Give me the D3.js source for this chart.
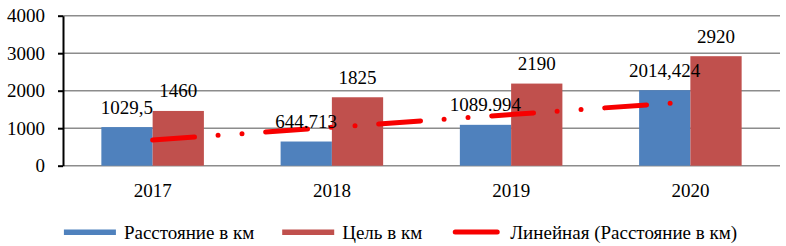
<!DOCTYPE html>
<html>
<head>
<meta charset="utf-8">
<script src="https://cdn.jsdelivr.net/npm/d3@7"></script>
<style>
    body { margin: 0; background: #fff; }
    svg text { font-family: "Liberation Serif", "Tinos", "Times New Roman", "DejaVu Serif", serif; fill: #000; }
</style>
</head>
<body>
<div id="chart"></div>
<script>
// data
const years = ["2017", "2018", "2019", "2020"];
const distance = [1029.5, 644.713, 1089.994, 2014.424];
const target = [1460, 1825, 2190, 2920];
const distanceLabels = ["1029,5", "644.713", "1089.994", "2014,424"];
const targetLabels = ["1460", "1825", "2190", "2920"];
const yTicks = [0, 1000, 2000, 3000, 4000];
const legendLabels = ["Расстояние в км", "Цель в км", "Линейная (Расстояние в км)"];

let totalWidth = 786,
    totalHeight = 246,
    mTop = 15.7,
    mLeft = 63,
    mRight = 6,
    mBottom = 80.3;

let width = totalWidth - mLeft - mRight,
    height = totalHeight - mTop - mBottom;

let blue = "#4f81bd",
    red = "#c0504d",
    trendRed = "#f70000",
    fontSize = 19,
    fontFamily = "'Liberation Serif', 'Tinos', 'Times New Roman', 'DejaVu Serif', serif";

let svg = d3.select("#chart").append("svg")
    .attr("width", totalWidth)
    .attr("height", totalHeight)
    .attr("font-family", fontFamily);

let g = svg.append("g")
    .attr("transform", "translate(" + mLeft + "," + mTop + ")");

let xScale = d3.scaleBand()
    .domain(years)
    .range([0, width])
    .paddingInner(0.428)
    .paddingOuter(0.214);

let xInner = d3.scaleBand()
    .domain(["distance", "target"])
    .range([0, xScale.bandwidth()]);

let yScale = d3.scaleLinear()
    .domain([0, 4000])
    .range([height, 0]);

// gridlines
g.append("g")
    .selectAll("line")
    .data(yTicks)
    .join("line")
    .attr("x1", 0)
    .attr("x2", width)
    .attr("y1", d => yScale(d))
    .attr("y2", d => yScale(d))
    .attr("stroke", "#8c8c8c")
    .attr("stroke-width", 1.4);

// y axis
let yAxis = d3.axisLeft(yScale)
    .tickValues(yTicks)
    .tickFormat(d3.format("d"))
    .tickSize(5)
    .tickPadding(13)
    .tickSizeOuter(0);

let yG = g.append("g").call(yAxis)
    .attr("font-family", fontFamily)
    .attr("font-size", fontSize);
yG.select(".domain")
    .attr("stroke", "#000")
    .attr("stroke-width", 2);
yG.selectAll(".tick line")
    .attr("stroke", "#000")
    .attr("stroke-width", 2);
yG.selectAll(".tick text")
    .style("font-size", fontSize + "px");

// x labels
g.append("g")
    .selectAll("text")
    .data(years)
    .join("text")
    .attr("x", d => xScale(d) + xScale.bandwidth() / 2)
    .attr("y", height + 31)
    .attr("text-anchor", "middle")
    .style("font-size", fontSize + "px")
    .text(d => d);

// bars
let rows = years.map((y, i) => ({ year: y, distance: distance[i], target: target[i], i: i }));

g.append("g")
    .selectAll("rect")
    .data(rows)
    .join("rect")
    .attr("x", d => xScale(d.year) + xInner("distance"))
    .attr("y", d => yScale(d.distance))
    .attr("width", xInner.bandwidth())
    .attr("height", d => height - yScale(d.distance))
    .attr("fill", blue);

g.append("g")
    .selectAll("rect")
    .data(rows)
    .join("rect")
    .attr("x", d => xScale(d.year) + xInner("target"))
    .attr("y", d => yScale(d.target))
    .attr("width", xInner.bandwidth())
    .attr("height", d => height - yScale(d.target))
    .attr("fill", red);

// linear trendline of the distance series (least squares, x = 1..n)
let n = distance.length;
let mx = d3.mean(distance, (d, i) => i + 1),
    my = d3.mean(distance);
let sxy = d3.sum(distance, (d, i) => (i + 1 - mx) * (d - my)),
    sxx = d3.sum(distance, (d, i) => (i + 1 - mx) * (i + 1 - mx));
let slope = sxy / sxx,
    intercept = my - slope * mx;

let trend = [1, n].map(k => ({ x: xScale(years[k - 1]) + xScale.bandwidth() / 2, y: yScale(intercept + slope * k) }));

g.append("path")
    .datum(trend)
    .attr("d", d3.line().x(d => d.x).y(d => d.y))
    .attr("fill", "none")
    .attr("stroke", trendRed)
    .attr("stroke-width", 5)
    .attr("stroke-linecap", "round")
    .attr("stroke-dasharray", "42,23.6,0,24,0,23.7");

// data labels
g.append("g")
    .selectAll("text")
    .data(rows)
    .join("text")
    .attr("x", d => xScale(d.year) + xInner("distance") + xInner.bandwidth() / 2)
    .attr("y", d => yScale(d.distance) - 13.5)
    .attr("text-anchor", "middle")
    .style("font-size", fontSize + "px")
    .text(d => distanceLabels[d.i]);

g.append("g")
    .selectAll("text")
    .data(rows)
    .join("text")
    .attr("x", d => xScale(d.year) + xInner("target") + xInner.bandwidth() / 2)
    .attr("y", d => yScale(d.target) - 13.5)
    .attr("text-anchor", "middle")
    .style("font-size", fontSize + "px")
    .text(d => targetLabels[d.i]);

// legend
let legend = svg.append("g");
let symW = 52,
    symGap = 8,
    itemGap = 28,
    legendY = 232;

let items = legend.selectAll("g")
    .data(legendLabels)
    .join("g");

items.each(function(d, i) {
    let it = d3.select(this);
    if (i < 2) {
        it.append("rect")
            .attr("x", 0)
            .attr("y", legendY - 2.5)
            .attr("width", symW)
            .attr("height", 5.5)
            .attr("fill", i === 0 ? blue : red);
    } else {
        it.append("line")
            .attr("x1", 5)
            .attr("x2", symW - 5)
            .attr("y1", legendY)
            .attr("y2", legendY)
            .attr("stroke", trendRed)
            .attr("stroke-width", 5)
            .attr("stroke-linecap", "round");
    }
    it.append("text")
        .attr("x", symW + symGap)
        .attr("y", legendY + 7)
        .style("font-size", fontSize + "px")
        .text(d);
});

let offset = 0;
let widths = [];
items.each(function() {
    widths.push(this.getBBox().width);
});
let total = d3.sum(widths) + itemGap * (widths.length - 1);
offset = 398 - total / 2;
items.attr("transform", (d, i) => {
    let x = offset;
    offset += widths[i] + itemGap;
    return "translate(" + x + ",0)";
});
</script>
</body>
</html>
